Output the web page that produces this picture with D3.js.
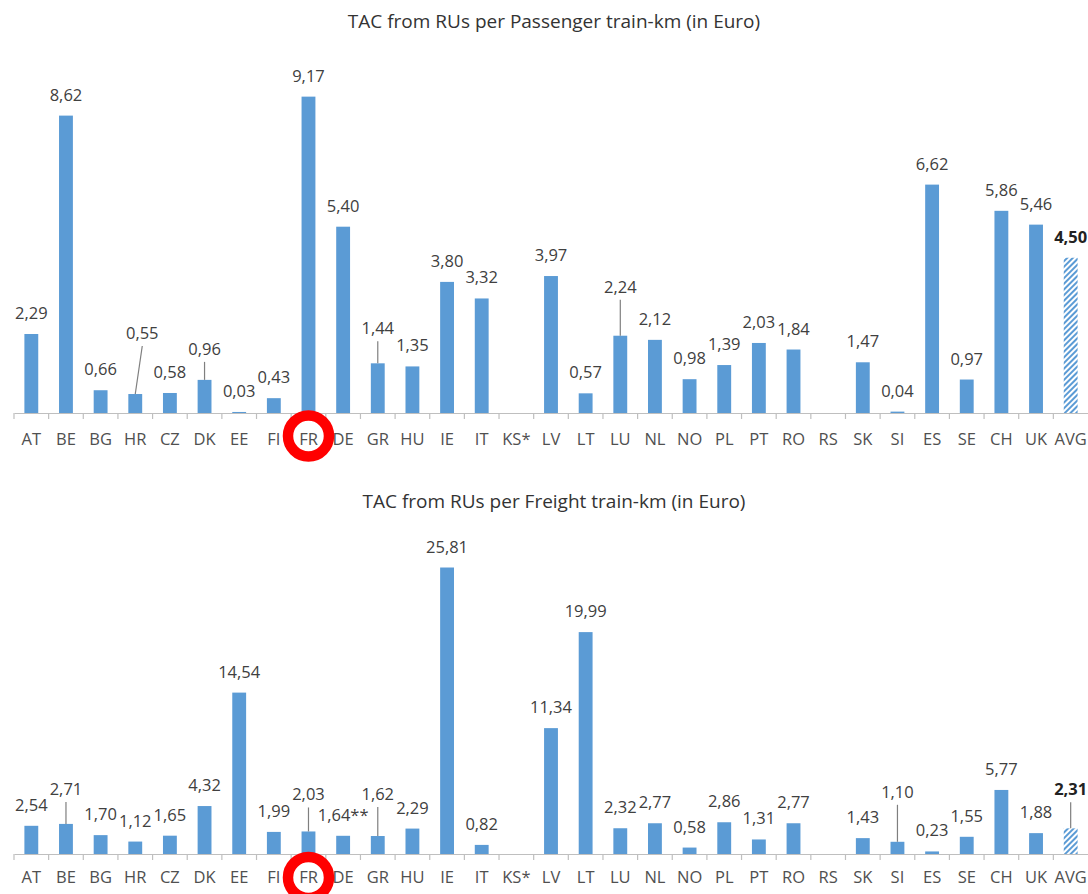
<!DOCTYPE html>
<html>
<head>
<meta charset="utf-8">
<script src="https://cdn.jsdelivr.net/npm/d3@7/dist/d3.min.js"></script>
<style>
  html, body { margin: 0; padding: 0; background: #fff; }
  svg { display: block; }
  text { font-family: "Open Sans", "Liberation Sans", sans-serif; }
</style>
</head>
<body>
<svg id="chart" width="1088" height="894"></svg>
<script>
// Countries shown on both panels
const categories = ["AT","BE","BG","HR","CZ","DK","EE","FI","FR","DE","GR","HU","IE","IT","KS*","LV","LT","LU","NL","NO","PL","PT","RO","RS","SK","SI","ES","SE","CH","UK","AVG"];

// Track access charges per passenger train-km (EUR); null = no value reported
const passengerValues = [2.29,8.62,0.66,0.55,0.58,0.96,0.03,0.43,9.17,5.40,1.44,1.35,3.80,3.32,null,3.97,0.57,2.24,2.12,0.98,1.39,2.03,1.84,null,1.47,0.04,6.62,0.97,5.86,5.46,4.50];

// Track access charges per freight train-km (EUR)
const freightValues = [2.54,2.71,1.70,1.12,1.65,4.32,14.54,1.99,2.03,1.64,1.62,2.29,25.81,0.82,null,11.34,19.99,2.32,2.77,0.58,2.86,1.31,2.77,null,1.43,1.10,0.23,1.55,5.77,1.88,2.31];

// Footnote markers appended to a value label
const freightNotes = { "DE": "**" };

const titles = [
  "TAC from RUs per Passenger train-km (in Euro)",
  "TAC from RUs per Freight train-km (in Euro)"
];

const highlighted = "FR";
const averageKey = "AVG";

// Label placement tweaks (extra lift in px, horizontal shift, leader line)
const passengerLabelLayout = {
  "HR": { lift: 40, dx: 7, leader: true },
  "DK": { lift: 10, leader: true },
  "GR": { lift: 14, leader: true },
  "LU": { lift: 28, leader: true }
};
const freightLabelLayout = {
  "BE": { lift: 14, leader: true },
  "FR": { lift: 16, leader: true },
  "GR": { lift: 21, leader: true },
  "SI": { lift: 29, leader: true },
  "AVG": { lift: 18, leader: true }
};

const BAR = "#5b9bd5";
const svg = d3.select("#chart");

// Hatch pattern for the average bar
const defs = svg.append("defs");
const pat = defs.append("pattern")
  .attr("id", "hatch")
  .attr("patternUnits", "userSpaceOnUse")
  .attr("width", 4).attr("height", 4)
  .attr("patternTransform", "rotate(45)");
pat.append("rect").attr("width", 4).attr("height", 4).attr("fill", "#ffffff");
pat.append("rect").attr("x", 0).attr("width", 2).attr("height", 4).attr("fill", BAR);

const fmt = v => d3.format(".2f")(v).replace(".", ",");

const x = d3.scaleBand()
  .domain(categories)
  .range([14, 1088])
  .paddingInner(0.6)
  .paddingOuter(0.3);

const VALUE_SIZE = 16.5;
const CAT_SIZE = 16.5;

function drawPanel(cfg) {
  const g = svg.append("g");
  const y = d3.scaleLinear().domain(cfg.domain).range([cfg.baseline, cfg.top]);
  const data = categories.map((c, i) => ({ c, v: cfg.values[i] }));

  g.append("text")
    .attr("x", 554).attr("y", cfg.titleY)
    .attr("text-anchor", "middle")
    .attr("font-size", cfg.titleSize)
    .attr("fill", "#333")
    .text(cfg.title);

  // Bars
  g.selectAll("rect.bar")
    .data(data.filter(d => d.v != null))
    .join("rect")
    .attr("class", "bar")
    .attr("x", d => x(d.c))
    .attr("width", x.bandwidth())
    .attr("y", d => y(d.v))
    .attr("height", d => y(0) - y(d.v))
    .attr("fill", d => d.c === averageKey ? "url(#hatch)" : BAR);

  // Category axis
  const axis = d3.axisBottom(x).tickSize(0).tickPadding(0);
  const ag = g.append("g").attr("transform", `translate(0,${y(0)})`).call(axis);
  ag.select(".domain").attr("stroke", "#bfbfbf").attr("stroke-width", 1.2);
  ag.selectAll(".tick text")
    .attr("y", cfg.labelOffset)
    .attr("dy", 0)
    .attr("font-size", CAT_SIZE)
    .attr("font-family", "\"Open Sans\", sans-serif")
    .attr("fill", "#505050");

  // Tick marks on band boundaries
  const step = x.step();
  const bounds = d3.range(categories.length).map(i => x(categories[i]) - (step - x.bandwidth()) / 2);
  g.selectAll("line.tick")
    .data(bounds)
    .join("line")
    .attr("x1", d => d).attr("x2", d => d)
    .attr("y1", y(0)).attr("y2", y(0) + 6)
    .attr("stroke", "#bfbfbf").attr("stroke-width", 1.2);

  // Value labels and leader lines
  const labelled = data.filter(d => d.v != null);
  labelled.forEach(d => {
    const lay = cfg.layout[d.c] || {};
    const cx = x(d.c) + x.bandwidth() / 2;
    const top = y(d.v);
    const centreY = top - 21 - (lay.lift || 0);
    const lx = cx + (lay.dx || 0);
    const isAvg = d.c === averageKey;
    g.append("text")
      .attr("x", lx)
      .attr("y", centreY + 6)
      .attr("text-anchor", "middle")
      .attr("font-size", VALUE_SIZE)
      .attr("font-weight", isAvg ? 700 : 400)
      .attr("fill", isAvg ? "#222" : "#404040")
      .text(fmt(d.v) + (cfg.notes[d.c] || ""));
    if (lay.leader) {
      g.append("line")
        .attr("x1", lx).attr("y1", centreY + 13)
        .attr("x2", cx).attr("y2", top)
        .attr("stroke", "#7f7f7f").attr("stroke-width", 1.2);
    }
  });

  // Highlight ring around one country label
  g.append("circle")
    .attr("cx", x(highlighted) + x.bandwidth() / 2)
    .attr("cy", cfg.ringY)
    .attr("r", 20.5)
    .attr("fill", "none")
    .attr("stroke", "#ff0000")
    .attr("stroke-width", 10.5);
}

drawPanel({
  title: titles[0], titleY: 28, titleSize: 19,
  values: passengerValues, notes: {}, layout: passengerLabelLayout,
  domain: [0, 10], baseline: 413, top: 68,
  labelOffset: 32, ringY: 436
});

drawPanel({
  title: titles[1], titleY: 508, titleSize: 19,
  values: freightValues, notes: freightNotes, layout: freightLabelLayout,
  domain: [0, 30], baseline: 854, top: 521,
  labelOffset: 29, ringY: 877.5
});
</script>
</body>
</html>
